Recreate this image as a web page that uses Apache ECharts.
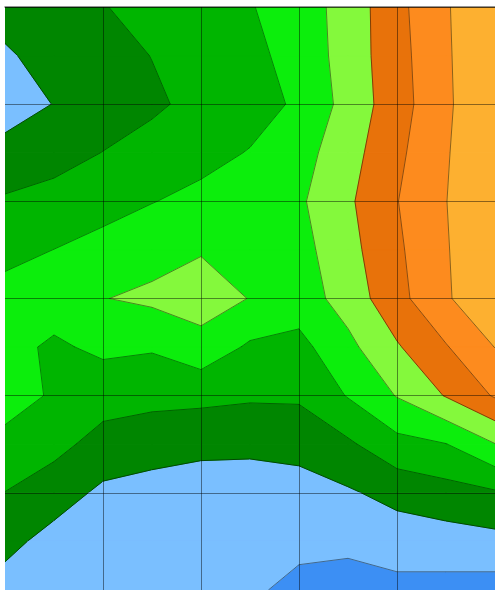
<!DOCTYPE html>
<html>
<head>
<meta charset="utf-8">
<script src="https://cdn.jsdelivr.net/npm/echarts@6/dist/echarts.min.js"></script>
<style>
  html, body { margin: 0; padding: 0; background: #ffffff; }
  #chart { width: 495px; height: 590px; }
</style>
</head>
<body>
<div id="chart"></div>
<script>
// Grid node positions (x across, y down; half-cell spacing)
const xNodes = [0, 0.5, 1, 1.5, 2, 2.5, 3, 3.5, 4, 4.5, 5];
const yNodes = [0, 0.5, 1, 1.5, 2, 2.5, 3, 3.5, 4, 4.5, 5, 5.5, 6];

// Contour levels and the fill colour of each band between them
const levels = [1, 2, 3, 4, 5, 6, 7, 8];
const bandColors = ['#3c8ff4', '#7abfff', '#008600', '#00b500', '#0cee0c',
                    '#84f93c', '#e8720a', '#fd8b1e', '#fdb030'];

// Field values, one row per y node (top to bottom), one column per x node
const zRows = [
  [2.30, 2.55, 2.96, 3.30, 3.64, 3.94, 4.50, 5.40, 6.72, 7.90, 9.00],
  [1.90, 2.29, 2.65, 3.02, 3.42, 3.75, 4.35, 5.43, 6.64, 7.86, 9.00],
  [1.45, 2.03, 2.45, 2.84, 3.27, 3.60, 4.15, 5.36, 6.57, 7.82, 9.00],
  [2.38, 2.63, 3.02, 3.36, 3.70, 4.05, 4.60, 5.61, 6.78, 7.91, 9.00],
  [3.11, 3.34, 3.65, 3.97, 4.25, 4.61, 4.85, 5.84, 6.97, 7.98, 9.00],
  [3.72, 4.01, 4.32, 4.63, 4.93, 4.60, 4.65, 5.67, 6.83, 7.92, 9.00],
  [4.35, 4.45, 4.97, 5.20, 5.45, 4.97, 4.50, 5.42, 6.69, 7.86, 9.00],
  [4.30, 3.85, 4.20, 4.10, 4.65, 3.85, 3.70, 4.74, 5.90, 6.93, 8.02],
  [4.30, 3.92, 3.42, 3.28, 3.25, 3.13, 3.14, 4.06, 5.05, 6.06, 7.10],
  [3.80, 3.30, 2.63, 2.44, 2.28, 2.26, 2.36, 2.84, 3.69, 3.97, 4.97],
  [2.98, 2.46, 1.80, 1.60, 1.45, 1.40, 1.55, 1.88, 2.32, 2.62, 2.88],
  [2.29, 1.65, 1.45, 1.35, 1.30, 1.15, 1.23, 1.24, 1.45, 1.55, 1.70],
  [1.60, 1.50, 1.40, 1.30, 1.25, 1.15, 0.75, 0.55, 0.73, 0.67, 0.58]
];

// One entry per grid cell: its top-left node and indices
const cells = [];
for (let j = 0; j < yNodes.length - 1; j++) {
  for (let i = 0; i < xNodes.length - 1; i++) {
    cells.push([xNodes[i], yNodes[j], i, j]);
  }
}

function cellCorners(i, j) {
  return [[i, j], [i + 1, j], [i + 1, j + 1], [i, j + 1]].map(function (n) {
    return { x: xNodes[n[0]], y: yNodes[n[1]], v: zRows[n[1]][n[0]] };
  });
}

// Part of a cell whose value lies in [lo, hi), walking the cell perimeter
function bandPolygon(corners, lo, hi) {
  const pts = [];
  for (let e = 0; e < 4; e++) {
    const a = corners[e], b = corners[(e + 1) % 4];
    if (a.v >= lo && a.v < hi) pts.push([a.x, a.y]);
    const cr = [];
    [lo, hi].forEach(function (t) {
      if (isFinite(t) && ((a.v < t) !== (b.v < t))) cr.push((t - a.v) / (b.v - a.v));
    });
    cr.sort(function (p, q) { return p - q; }).forEach(function (f) {
      pts.push([a.x + (b.x - a.x) * f, a.y + (b.y - a.y) * f]);
    });
  }
  return pts;
}

// Iso-line pieces of level t inside a cell
function levelSegments(corners, t) {
  const pts = [];
  for (let e = 0; e < 4; e++) {
    const a = corners[e], b = corners[(e + 1) % 4];
    if ((a.v < t) !== (b.v < t)) {
      const f = (t - a.v) / (b.v - a.v);
      pts.push([a.x + (b.x - a.x) * f, a.y + (b.y - a.y) * f]);
    } else {
      pts.push(null);
    }
  }
  const found = pts.filter(function (p) { return p; });
  if (found.length === 2) return [found];
  if (found.length === 4) {
    const centre = (corners[0].v + corners[1].v + corners[2].v + corners[3].v) / 4;
    if ((centre < t) === (corners[0].v < t)) {
      return [[pts[0], pts[1]], [pts[2], pts[3]]];
    }
    return [[pts[3], pts[0]], [pts[1], pts[2]]];
  }
  return [];
}

const chart = echarts.init(document.getElementById('chart'));

const gridLine = { color: 'rgba(0,0,0,0.45)', width: 1 };

chart.setOption({
  animation: false,
  backgroundColor: '#ffffff',
  grid: { left: 5, top: 7, right: 0, bottom: 0, containLabel: false },
  xAxis: {
    type: 'value', min: 0, max: 5, interval: 1, position: 'top', z: 5,
    axisLine: { show: true, onZero: false, lineStyle: { color: 'rgba(0,0,0,0.55)', width: 1.5 } },
    axisTick: { show: false }, axisLabel: { show: false },
    splitLine: { show: true, showMinLine: false, lineStyle: gridLine }
  },
  yAxis: {
    type: 'value', min: 0, max: 6, interval: 1, inverse: true, z: 5,
    axisLine: { show: false }, axisTick: { show: false }, axisLabel: { show: false },
    splitLine: { show: true, lineStyle: gridLine }
  },
  series: [
    {
      type: 'custom',
      z: 2,
      clip: true,
      encode: { x: 0, y: 1 },
      data: cells,
      renderItem: function (params, api) {
        const corners = cellCorners(api.value(2), api.value(3));
        const children = [];
        for (let k = 0; k <= levels.length; k++) {
          const lo = k === 0 ? -Infinity : levels[k - 1];
          const hi = k === levels.length ? Infinity : levels[k];
          const pts = bandPolygon(corners, lo, hi);
          if (pts.length >= 3) {
            children.push({
              type: 'polygon',
              shape: { points: pts.map(function (p) { return api.coord(p); }) },
              style: { fill: bandColors[k], stroke: bandColors[k], lineWidth: 1 }
            });
          }
        }
        return { type: 'group', children: children };
      }
    },
    {
      type: 'custom',
      z: 3,
      clip: true,
      encode: { x: 0, y: 1 },
      data: cells,
      renderItem: function (params, api) {
        const corners = cellCorners(api.value(2), api.value(3));
        const children = [];
        levels.forEach(function (t) {
          levelSegments(corners, t).forEach(function (seg) {
            const p1 = api.coord(seg[0]), p2 = api.coord(seg[1]);
            children.push({
              type: 'line',
              shape: { x1: p1[0], y1: p1[1], x2: p2[0], y2: p2[1] },
              style: { stroke: 'rgba(0,0,0,0.45)', lineWidth: 1 }
            });
          });
        });
        return { type: 'group', children: children };
      }
    }
  ]
});
</script>
</body>
</html>
